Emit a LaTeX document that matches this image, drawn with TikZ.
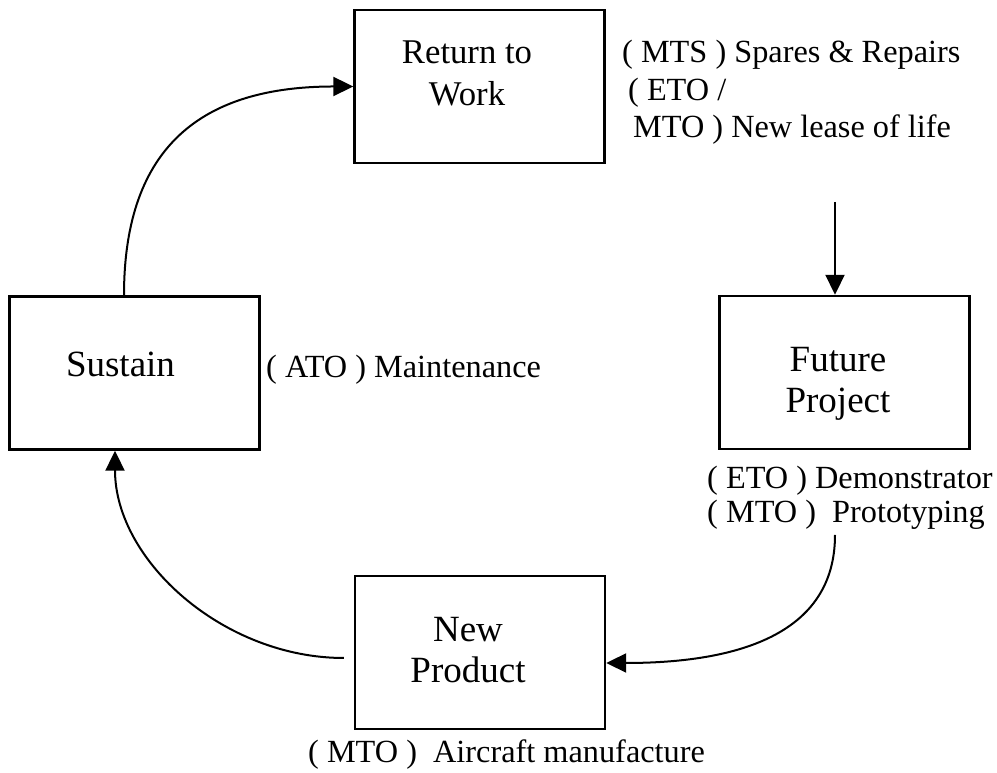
\documentclass[tikz,border=0pt]{standalone}
\usepackage{fontspec}
\setmainfont{Liberation Serif}
\usetikzlibrary{arrows.meta, positioning}

\begin{document}
\begin{tikzpicture}[x=1pt, y=1pt,
        stage/.style={draw, line width=2.4pt, minimum width=250pt,
                        minimum height=153pt, inner sep=0pt},
        boxtext/.style={inner sep=0pt, align=center,
                        font=\fontsize{37}{41}\selectfont},
        note/.style={inner sep=0pt, align=left,
                        font=\fontsize{32.3}{37.5}\selectfont},
        flow/.style={line width=2pt, -{Triangle[length=20pt, width=19pt]}}]

            \useasboundingbox (0,0) rectangle (997,773);

            % Boxes of the cycle
            \node (rtw) [stage] at (479.5,686.5) {};
            \node (sus) [stage] at (134.5,400) {};
            \node (fut) [stage] at (844.5,400.5) {};
            \node (newp) [stage] at (480,120.5) {};

            % Texts in the boxes (base = last line)
            \node (rtwtext) [boxtext, anchor=base, font=\fontsize{34.7}{42}\selectfont]
                at (467,667) {Return to\\Work};
            \node (sustext) [boxtext, anchor=base] at (120.5,396) {Sustain};
            \node (futtext) [boxtext, anchor=base] at (838,360) {Future\\Project};
            \node (newptext) [boxtext, anchor=base] at (468,90) {New\\Product};

            % Notes beside the boxes
            \node (rtwnote) [note, anchor=base west] at (622,635)
                {( MTS ) Spares \& Repairs\\
                 \hspace*{6pt}( ETO /\\
                 \hspace*{11pt}MTO ) New lease of life};
            \node (susnote) [note, anchor=base west] at (266,395) {( ATO ) Maintenance};
            \node (futnote) [note, anchor=base west, font=\fontsize{32.3}{34}\selectfont]
                at (707,250) {( ETO ) Demonstrator\\( MTO )~ Prototyping};
            \node (newpnote) [note, anchor=base west] at (308,10)
                {( MTO )~ Aircraft manufacture};

            % Free ends of the connectors
            \coordinate (futin) at (835,571);
            \coordinate (protoout) at (835,238);

            % Arrows of the cycle
            \draw[flow] ([xshift=-10.5pt]sus.north) .. controls +(0,150) and +(-150,0) .. (rtw.west);
            \draw[flow] (futin) -- (futin |- fut.north);
            \draw[flow] (protoout) .. controls +(0,-100) and +(130,0) .. ([yshift=-10.5pt]newp.east);
            \draw[flow] ([xshift=-10pt, yshift=-5.5pt]newp.west) .. controls +(-120,0) and +(0,-110)
                .. ([xshift=-19.5pt]sus.south);

\end{tikzpicture}
\end{document}
